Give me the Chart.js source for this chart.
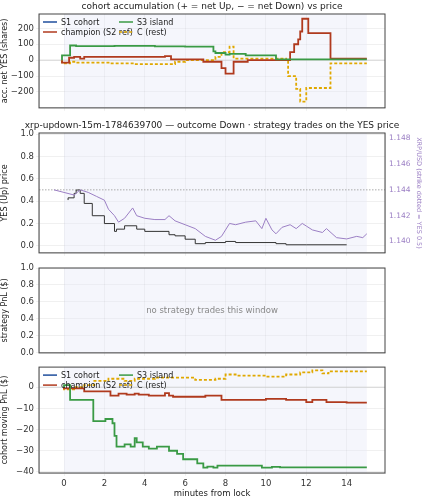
<!DOCTYPE html>
<html><head><meta charset="utf-8">
<script src="https://cdn.jsdelivr.net/npm/chart.js@4/dist/chart.umd.min.js"></script>
<style>
body{margin:0;background:#fff;width:423px;height:500px;position:relative;overflow:hidden}
canvas{position:absolute;left:0}
</style></head><body>
<canvas id="c1" style="top:0"></canvas>
<canvas id="c2" style="top:115px"></canvas>
<canvas id="c3" style="top:260px"></canvas>
<canvas id="c4" style="top:360px"></canvas>
<script>
// ---- data ----
const xTicks = [0, 2, 4, 6, 8, 10, 12, 14];

const accS3X = [-0.1, 0.3, 0.6, 2.5, 4.5, 6.0, 7.4, 7.5, 8.0, 8.2, 9.0, 10.5, 11.1, 15];
const accS3Y = [0, 30, 92, 88, 90, 87, 85, 55, 45, 35, 40, 30, 5, 5];
const accChampX = [-0.1, 0.25, 0.5, 0.8, 1.0, 5.0, 5.3, 6.9, 7.8, 8.0, 8.4, 9.1, 11.2, 11.4, 11.6, 11.7, 11.8, 12.1, 13.2, 14.0, 15];
const accChampY = [0, -15, 15, 20, 10, 20, 25, 5, -10, -50, -85, -10, 0, 50, 100, 130, 180, 260, 170, 10, 10];
const accCX = [-0.1, 0.3, 0.6, 2.3, 3.5, 5.5, 6.0, 7.5, 7.8, 8.2, 8.4, 9.1, 11.0, 11.1, 11.5, 11.7, 12.0, 13.2, 14.0, 15];
const accCY = [0, -20, -10, -15, -20, -25, -10, 0, 20, 50, 85, 10, 10, 0, -100, -180, -260, -175, -20, -20];

const yesX = [0.2, 0.5, 0.6, 0.8, 1.0, 1.4, 2.0, 2.5, 2.6, 3.0, 3.6, 4.0, 5.2, 5.5, 6.0, 6.5, 7.0, 8.0, 8.5, 10.5, 11.0, 12.0, 14.0];
const yesY = [0.41, 0.43, 0.47, 0.5, 0.47, 0.38, 0.27, 0.2, 0.13, 0.15, 0.18, 0.15, 0.13, 0.1, 0.09, 0.06, 0.02, 0.03, 0.04, 0.03, 0.02, 0.01, 0.01];
const xrpX = [-0.5, 0, 0.5, 0.8, 1.2, 1.6, 2.0, 2.2, 2.5, 2.7, 3.0, 3.4, 3.6, 4.0, 4.5, 5.0, 5.2, 5.5, 6.0, 6.5, 7.0, 7.5, 7.8, 8.2, 8.5, 9.0, 9.5, 9.8, 10.0, 10.3, 10.5, 10.8, 11.2, 11.5, 11.8, 12.0, 12.3, 12.8, 13.0, 13.5, 14.0, 14.5, 14.8, 15];
const xrpY = [1.1440, 1.1438, 1.1436, 1.1440, 1.1438, 1.1435, 1.1432, 1.1425, 1.1420, 1.1415, 1.1418, 1.1426, 1.1420, 1.1418, 1.1417, 1.1417, 1.1420, 1.1416, 1.1413, 1.1410, 1.1404, 1.1401, 1.1404, 1.1414, 1.1413, 1.1415, 1.1416, 1.1410, 1.1418, 1.1409, 1.1406, 1.1411, 1.1413, 1.1410, 1.1414, 1.1412, 1.1409, 1.1407, 1.1410, 1.1403, 1.1402, 1.1404, 1.1403, 1.1406];
const strike = 1.144;

const pnlS3X = [0, 0.3, 1.45, 2.05, 2.4, 2.5, 2.6, 3.0, 3.3, 3.5, 3.6, 3.9, 4.2, 4.6, 5.2, 5.6, 5.9, 6.6, 6.9, 7.1, 7.4, 7.6, 8.3, 9.8, 10.3, 10.7, 15];
const pnlS3Y = [0, 1, -6, -16, -15, -17, -23, -28, -27, -28, -24, -26, -28, -29, -28, -30, -31.5, -34, -36, -38, -37.5, -38, -37, -37, -38, -37.6, -37.8];
const pnlChampX = [0, 1.0, 2.3, 2.7, 3.1, 3.5, 3.7, 4.2, 5.0, 5.2, 5.4, 7.0, 7.8, 8.6, 10.0, 11.0, 12.0, 12.3, 13.0, 14.0, 15];
const pnlChampY = [0, -0.5, -2, -4, -3, -3.5, -3, -3.5, -4, -2.8, -4, -4.5, -4, -6, -6, -5.5, -6, -7, -6, -7, -7.3];
const pnlCX = [0, 0.5, 1.0, 1.5, 2.2, 3.0, 3.5, 4.5, 6.5, 7.5, 8.0, 8.5, 10.0, 11.0, 11.7, 12.3, 12.8, 13.1, 13.6, 15];
const pnlCY = [0, -1, 0, 1, 3, 4, 3, 4, 4.5, 3.5, 4, 6, 5.5, 5, 6, 7, 8, 6.5, 7.5, 7.5];

// ---- styling ----
const BLUE = "#1f4e9c", RED = "#b03a1e", GREEN = "#3a9a45", GOLD = "#e0a800", PURPLE = "#9b7fc4";
const FONT = "DejaVu Sans";
Chart.defaults.font.family = FONT;
Chart.defaults.font.size = 8.5;
Chart.defaults.color = "#333";
Chart.defaults.animation = false;

function pts(xs, ys) {
  return xs.map((x, i) => ({x, y: ys[i]}));
}

function line(label, xs, ys, color, opts) {
  return Object.assign({
    label, data: pts(xs, ys), borderColor: color, backgroundColor: color,
    borderWidth: 1.8, pointRadius: 0, stepped: "after", fill: false,
  }, opts || {});
}

const frame = {
  id: "frame",
  beforeDatasetsDraw(chart) {
    const {ctx, chartArea: a, scales} = chart;
    const x0 = scales.x.getPixelForValue(0), x1 = scales.x.getPixelForValue(15);
    ctx.save();
    ctx.fillStyle = "rgba(225,230,245,0.35)";
    ctx.fillRect(x0, a.top, x1 - x0, a.bottom - a.top);
    const o = chart.options.plugins.frame || {};
    if (o.zero) {
      const y = scales.y.getPixelForValue(0);
      ctx.strokeStyle = "#ccc"; ctx.lineWidth = 0.8;
      ctx.beginPath(); ctx.moveTo(a.left, y); ctx.lineTo(a.right, y); ctx.stroke();
    }
    if (o.strike) {
      const y = scales.y2.getPixelForValue(strike);
      ctx.strokeStyle = "#aaa"; ctx.setLineDash([1.5, 1.5]);
      ctx.beginPath(); ctx.moveTo(a.left, y); ctx.lineTo(a.right, y); ctx.stroke();
    }
    ctx.restore();
  },
  afterDraw(chart) {
    const {ctx, chartArea: a} = chart;
    const o = chart.options.plugins.frame || {};
    ctx.save();
    ctx.strokeStyle = "#444"; ctx.lineWidth = 1;
    ctx.strokeRect(a.left, a.top, a.right - a.left, a.bottom - a.top);
    ctx.fillStyle = "#222"; ctx.textAlign = "center"; ctx.font = "9px " + FONT;
    if (o.title) ctx.fillText(o.title, (a.left + a.right) / 2, a.top - 5);
    if (o.note) {
      ctx.fillStyle = "#888"; ctx.font = "8.5px " + FONT;
      ctx.fillText(o.note, (a.left + a.right) / 2, (a.top + a.bottom) / 2 + 3);
    }
    if (o.legend) {
      const items = [["S1 cohort", BLUE, false, 0, 0], ["champion (S2 ref)", RED, false, 0, 1],
        ["S3 island", GREEN, false, 1, 0], ["C (rest)", GOLD, true, 1, 1]];
      ctx.font = "8px " + FONT; ctx.textAlign = "left";
      items.forEach(([t, c, dash, col, row]) => {
        const x = a.left + 4 + col * 76, y = a.top + 8 + row * 10;
        ctx.strokeStyle = c; ctx.lineWidth = 1.5; ctx.setLineDash(dash ? [3, 2] : []);
        ctx.beginPath(); ctx.moveTo(x, y); ctx.lineTo(x + 14, y); ctx.stroke();
        ctx.fillStyle = "#222"; ctx.fillText(t, x + 18, y + 3);
      });
    }
    ctx.restore();
  },
};

function xScale(h, labels) {
  return {
    type: "linear", min: -1.24, max: 15.9,
    afterBuildTicks: s => { s.ticks = xTicks.map(v => ({value: v})); },
    afterFit: s => { s.height = h; },
    ticks: {display: labels, color: "#333"},
    grid: {color: "rgba(0,0,0,0.06)", tickLength: 3},
    title: {display: labels, text: "minutes from lock", color: "#222", padding: 1},
  };
}

function yScale(min, max, ticks, title, fmt) {
  return {
    min, max,
    afterBuildTicks: s => { s.ticks = ticks.map(v => ({value: v})); },
    afterFit: s => { s.width = 39; },
    ticks: {color: "#333", padding: 2, callback: fmt || (v => String(v).replace("-", "\u2212"))},
    grid: {color: "rgba(0,0,0,0.06)", tickLength: 3},
    title: {display: true, text: title, color: "#222", padding: 0, font: {size: 8}},
  };
}

function make(id, h, padTop, padRight, datasets, scales, frameOpts) {
  const cv = document.getElementById(id);
  cv.width = 423; cv.height = h;
  cv.style.width = "423px"; cv.style.height = h + "px";
  return new Chart(cv, {
    type: "line",
    data: {datasets},
    options: {
      responsive: false, devicePixelRatio: 1,
      layout: {padding: {top: padTop, right: padRight, left: 0, bottom: 0}},
      plugins: {legend: {display: false}, tooltip: {enabled: false}, frame: frameOpts},
      scales,
    },
    plugins: [frame],
  });
}

make("c1", 115, 14, 38, [
  line("S3 island", accS3X, accS3Y, GREEN),
  line("champion (S2 ref)", accChampX, accChampY, RED),
  line("C (rest)", accCX, accCY, GOLD, {borderDash: [3, 2]}),
], {
  x: xScale(7, false),
  y: yScale(-300, 290, [-200, -100, 0, 100, 200], "acc. net YES (shares)"),
}, {title: "cohort accumulation (+ = net Up, \u2212 = net Down) vs price", legend: true, zero: true});

make("c2", 145, 18, 0, [
  line("XRP", xrpX, xrpY, PURPLE, {yAxisID: "y2", borderWidth: 1, stepped: false}),
  line("YES", yesX, yesY, "#333", {borderWidth: 1}),
], {
  x: xScale(7, false),
  y: yScale(-0.0625, 1.01, [0, 0.2, 0.4, 0.6, 0.8, 1.0], "YES (Up) price", v => v.toFixed(1)),
  y2: {
    position: "right", min: 1.13912, max: 1.1484,
    afterBuildTicks: s => { s.ticks = [1.140, 1.142, 1.144, 1.146, 1.148].map(v => ({value: v})); },
    afterFit: s => { s.width = 38; },
    ticks: {color: PURPLE, padding: 1, font: {size: 7.5}, callback: v => v.toFixed(3)},
    grid: {display: false, tickLength: 3},
    title: {display: true, text: "XRP/USD (strike dotted = YES 0.5)", color: PURPLE, padding: 0, font: {size: 6.5}},
  },
}, {title: "xrp-updown-15m-1784639700 \u2014 outcome Down \u00b7 strategy trades on the YES price", strike: true});

make("c3", 100, 8, 38, [], {
  x: xScale(5, false),
  y: yScale(0, 1, [0, 0.2, 0.4, 0.6, 0.8, 1.0], "strategy PnL ($)", v => v.toFixed(1)),
}, {note: "no strategy trades this window"});

make("c4", 140, 5, 38, [
  line("S3 island", pnlS3X, pnlS3Y, GREEN),
  line("champion (S2 ref)", pnlChampX, pnlChampY, RED),
  line("C (rest)", pnlCX, pnlCY, GOLD, {borderDash: [3, 2]}),
], {
  x: xScale(27, true),
  y: yScale(-40.5, 9.5, [-40, -30, -20, -10, 0], "cohort moving PnL ($)"),
}, {legend: true, zero: true});
</script>
</body></html>
